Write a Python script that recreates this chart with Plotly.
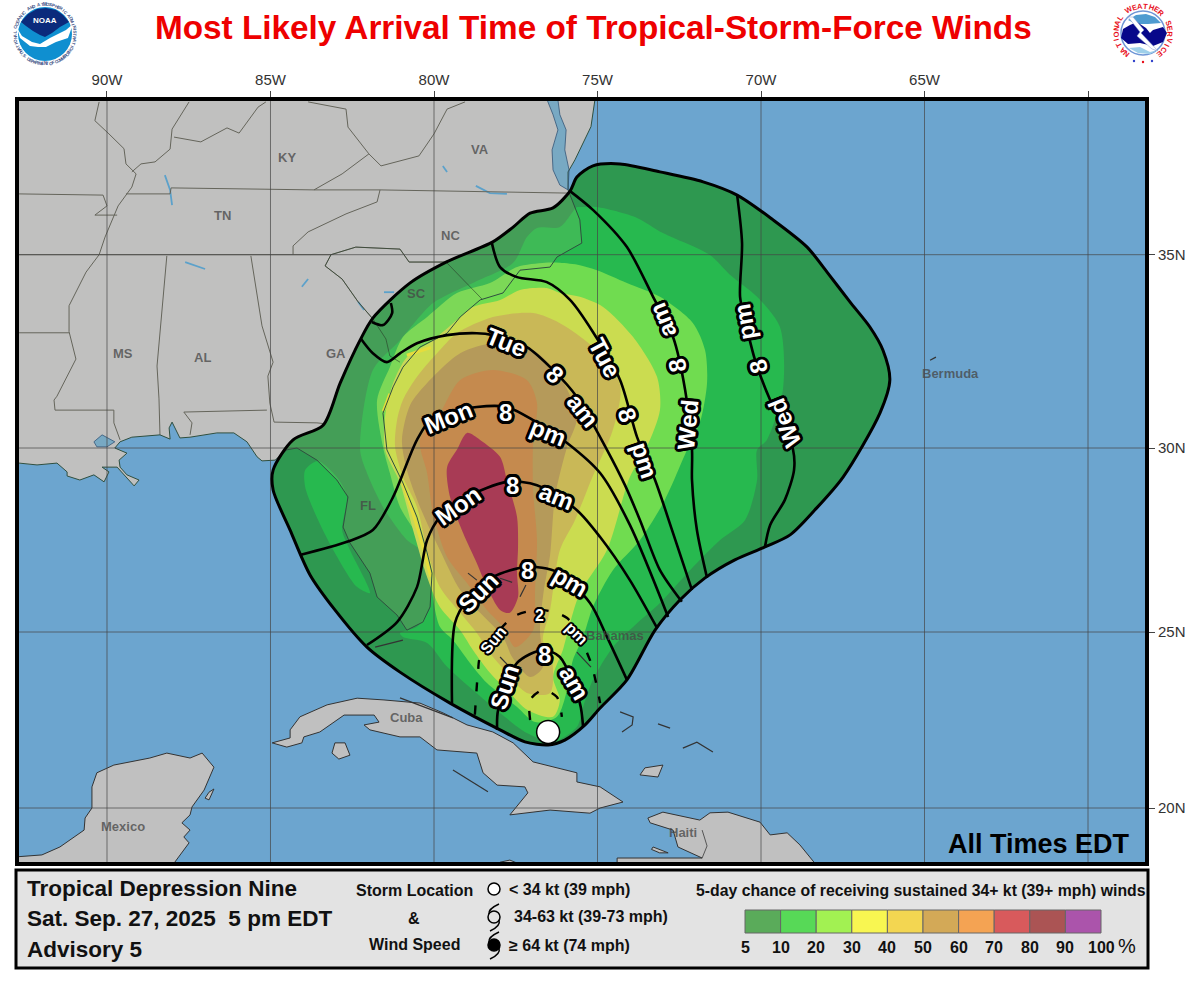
import math
import numpy as np
import plotly.graph_objects as go

# ---------- map axes ----------
LON_TICKS = [-90, -85, -80, -75, -70, -65, -60]
LON_LABELS = ["90W", "85W", "80W", "75W", "70W", "65W", ""]
LAT_TICKS = [35, 30, 25, 20]
LAT_LABELS = ["35N", "30N", "25N", "20N"]
# map grid: northing of each latitude on this projection
GRID_LAT = [15, 20, 25, 30, 35, 40]
GRID_NORTHING = [980.5, 808, 632, 448, 254.7, 54.7]
LON_RANGE = [-92.752, -58.196]
NORTHING_RANGE = [864, 99]

# ---------- wind probability contours (lon, lat) ----------
P05 = [(-75.84,36.59),(-75.63,36.94),(-75.14,37.22),(-74.31,37.27),(-73.09,37.07),(-71.77,36.82),(-70.73,36.49),(-69.63,35.87),(-68.59,35.19),(-67.98,34.55),(-67.28,33.78),(-66.67,33.13),(-66.27,32.53),(-66.06,31.76),(-66.36,30.91),(-67.49,29.21),(-68.35,28.32),(-69.11,27.64),(-69.88,27.31),(-70.8,26.96),(-71.71,26.47),(-72.48,25.87),(-73.24,25.05),(-74.1,23.64),(-74.92,22.84),(-75.38,22.36),(-76.0,21.93),(-76.51,21.79),(-77.22,21.88),(-77.98,22.22),(-79.51,22.98),(-81.04,23.86),(-82.05,24.57),(-83.03,25.6),(-83.79,26.55),(-84.4,27.77),(-84.92,28.86),(-84.92,29.4),(-84.31,30.21),(-83.39,30.59),(-82.87,31.68),(-82.26,32.79),(-81.87,33.36),(-80.73,34.27),(-79.6,34.82),(-78.2,35.32),(-77.58,35.69),(-77.06,36.04),(-76.36,36.17),(-75.84,36.59)]
P10 = [(-75.54,36.19),(-75.02,36.19),(-73.79,35.92),(-73.0,35.54),(-71.56,34.99),(-70.95,34.48),(-70.12,33.91),(-69.42,33.13),(-69.33,31.5),(-69.82,30.21),(-70.12,29.95),(-70.12,29.13),(-70.49,28.04),(-71.25,27.5),(-72.17,26.68),(-73.09,25.79),(-73.79,25.24),(-74.53,24.57),(-75.14,23.64),(-75.44,22.87),(-75.63,22.3),(-76.36,21.88),(-77.16,22.13),(-77.98,22.7),(-78.81,23.35),(-79.6,24.01),(-80.21,24.69),(-80.95,24.86),(-81.04,24.97),(-80.52,25.14),(-80.12,25.68),(-80.12,26.33),(-80.43,27.23),(-80.83,27.5),(-81.56,28.4),(-82.05,29.32),(-82.26,29.95),(-81.87,32.02),(-81.04,32.79),(-80.03,33.75),(-78.81,34.27),(-77.58,34.79),(-77.16,35.44),(-76.85,35.67),(-76.15,35.69),(-75.63,36.19),(-75.54,36.19)]
P10_GULF = [(-83.94,29.4),(-83.55,29.65),(-82.97,29.21),(-82.66,28.67),(-82.81,27.77),(-82.57,27.23),(-81.96,26.06),(-82.35,26.22),(-83.03,27.15),(-83.64,28.23),(-83.94,28.94),(-83.94,29.4)]
P20 = [(-76.15,34.79),(-75.54,34.73),(-75.02,34.6),(-74.1,34.27),(-73.09,33.91),(-72.08,33.23),(-71.71,32.53),(-71.65,31.68),(-71.87,30.65),(-72.26,29.95),(-72.94,28.59),(-73.7,27.5),(-74.53,26.68),(-75.14,25.68),(-75.44,24.86),(-75.75,24.21),(-75.93,23.35),(-76.24,22.59),(-76.91,22.44),(-77.46,22.87),(-78.38,23.55),(-78.9,24.12),(-79.42,24.77),(-79.82,25.14),(-80.06,26.14),(-80.06,26.6),(-80.43,27.5),(-81.04,28.4),(-81.35,29.32),(-81.56,30.03),(-81.74,31.24),(-81.35,32.09),(-80.95,32.87),(-80.21,33.39),(-79.3,34.01),(-78.29,34.27),(-77.46,34.68),(-76.61,34.79),(-76.15,34.79)]
P30 = [(-79.3,33.31),(-78.81,33.65),(-77.98,33.83),(-77.37,34.09),(-76.55,34.14),(-76.15,34.01),(-75.54,33.91),(-74.83,33.65),(-73.91,32.87),(-73.18,31.84),(-73.09,30.98),(-73.49,30.03),(-74.01,29.21),(-74.71,27.23),(-75.54,26.06),(-75.84,25.24),(-76.06,24.49),(-76.36,23.72),(-76.15,23.07),(-76.36,22.59),(-77.13,22.78),(-77.77,23.35),(-78.29,23.84),(-78.81,24.49),(-79.2,25.05),(-79.82,25.68),(-80.21,26.49),(-80.64,27.77),(-81.04,29.05),(-81.5,29.95),(-81.5,30.8),(-81.25,31.68),(-80.83,32.35),(-80.03,32.79),(-79.3,33.31)]
P40 = [(-79.91,32.45),(-79.3,32.97),(-78.2,33.39),(-76.97,33.49),(-76.15,33.23),(-75.14,32.61),(-74.31,31.63),(-74.53,30.47),(-75.17,29.18),(-75.69,28.04),(-76.15,27.23),(-76.45,25.6),(-76.67,24.77),(-76.39,24.21),(-76.45,23.27),(-77.16,23.27),(-77.77,23.84),(-78.29,24.4),(-78.69,24.97),(-79.2,25.52),(-79.82,26.22),(-80.21,27.23),(-80.52,28.4),(-80.95,29.21),(-81.19,30.03),(-81.13,30.72),(-80.95,31.24),(-80.52,31.84),(-79.91,32.45)]
P50 = [(-80.21,31.68),(-79.2,32.45),(-78.2,32.71),(-76.97,32.53),(-76.15,31.84),(-75.63,30.8),(-75.93,30.03),(-76.3,28.67),(-76.45,27.09),(-76.64,26.14),(-76.76,25.05),(-76.67,24.0),(-77.06,23.72),(-77.61,24.29),(-77.89,24.86),(-78.59,25.52),(-79.2,26.14),(-79.82,27.23),(-80.43,28.4),(-80.83,29.4),(-80.98,30.21),(-80.73,31.11),(-80.21,31.68)]
P60 = [(-79.82,30.9),(-79.2,31.76),(-78.2,32.02),(-77.16,31.76),(-76.85,31.16),(-76.97,30.13),(-76.97,28.86),(-76.85,27.5),(-76.91,26.14),(-76.97,25.05),(-77.52,24.57),(-77.89,25.14),(-78.38,25.6),(-78.99,26.33),(-79.6,27.04),(-80.03,28.23),(-80.21,29.32),(-80.43,30.21),(-79.82,30.9)]
P70 = [(-78.99,30.39),(-78.59,30.21),(-77.98,29.76),(-77.77,29.13),(-77.46,28.12),(-77.43,27.31),(-77.46,26.6),(-77.43,25.95),(-77.68,25.52),(-77.98,25.6),(-78.38,26.22),(-78.69,26.87),(-79.11,27.69),(-79.51,28.67),(-79.6,29.48),(-79.3,29.95),(-78.99,30.39)]
PROB_FILLS = [(P05,"#2e9850"),(P10,"#27b94f"),(P10_GULF,"#27b94f"),(P20,"#70dc50"),(P30,"#cbdc50"),(P40,"#c9b857"),(P50,"#b59a5a"),(P60,"#c58a4e"),(P70,"#a83b55")]
# narrow high-probability strips hugging the coast
COAST_STRIP_FL = [(-80.95,29.05),(-80.6,28.1),(-80.3,27.2),(-80.1,26.5)]
COAST_STRIP_GA = [(-80.83,32.4),(-80.1,32.6)]
COAST_STRIP_GA2 = [(-81.55,30.95),(-81.35,31.4)]

# ---------- most likely arrival time contours (lon, lat) ----------
T_WED_PM = [(-70.73,36.49),(-70.58,35.29),(-70.64,33.91),(-70.49,33.31),(-70.18,32.27),(-69.72,31.24),(-69.27,30.47),(-69.02,29.95),(-68.99,29.4),(-69.27,28.59),(-69.72,27.91),(-69.88,27.31)]
T_WED_AM = [(-75.84,36.59),(-75.14,36.12),(-74.1,35.19),(-73.3,33.91),(-72.69,32.87),(-72.32,31.5),(-72.11,29.95),(-72.11,29.13),(-71.96,27.77),(-71.65,26.47)]
T_TUE_PM = [(-78.23,35.29),(-77.98,34.68),(-77.46,34.42),(-76.55,34.29),(-75.84,33.83),(-75.14,33.0),(-74.31,31.76),(-73.79,30.28),(-73.24,29.13),(-72.72,27.77),(-72.11,26.14)]
T_TUE_AM = [(-82.23,32.82),(-81.87,32.45),(-81.44,32.22),(-81.04,32.45),(-80.52,32.71),(-79.6,32.92),(-78.69,32.97),(-78.2,32.92),(-77.16,32.61),(-76.36,32.02),(-75.63,31.32),(-74.71,29.95),(-74.16,28.99),(-73.7,28.04),(-73.09,26.68),(-72.42,25.82)]
T_TUE_ARC = [(-81.9,33.26),(-81.56,33.18),(-81.28,33.49),(-81.32,33.75)]
T_MON_PM = [(-84.1,27.09),(-82.66,27.45),(-81.87,27.77),(-81.25,28.67),(-80.52,30.21),(-80.03,30.8),(-78.69,31.06),(-77.77,31.06),(-76.97,30.72),(-75.93,30.13),(-74.92,29.32),(-74.01,27.91),(-72.84,25.41)]
T_MON_AM = [(-82.05,24.63),(-81.13,25.27),(-80.52,26.22),(-80.21,27.5),(-79.82,28.12),(-78.99,28.67),(-77.77,29.08),(-76.85,28.99),(-75.63,28.31),(-74.92,27.58),(-74.01,26.41),(-73.18,25.11)]
T_SUN_PM = [(-79.45,22.98),(-79.36,25.24),(-78.99,25.87),(-78.2,26.49),(-77.16,26.77),(-76.24,26.63),(-75.23,25.79),(-74.71,24.86),(-74.1,23.64)]
T_SUN_AM = [(-78.07,22.22),(-78.04,22.78),(-77.46,24.12),(-76.67,24.49),(-76.15,24.29),(-75.54,22.98),(-75.44,22.3)]
T_SOLID = [T_WED_PM,T_WED_AM,T_TUE_PM,T_TUE_AM,T_TUE_ARC,T_MON_PM,T_MON_AM,T_SUN_PM,T_SUN_AM]
T_SUN_2PM = [(-78.75,22.65),(-78.65,23.92),(-78.59,24.29),(-77.58,25.41),(-76.76,25.6),(-75.93,25.38),(-75.23,24.2),(-74.92,22.98)]
T_SUN_5AM = [(-77.06,22.5),(-77.06,23.07),(-76.67,23.35),(-76.24,23.15),(-76.09,22.59)]
T_DASHED = [T_SUN_2PM,T_SUN_5AM]

# word, lon, lat, rotation, size
TIME_LABELS = [
 ("Tue",-77.77,32.74,22,24),("8",-76.3,31.89,45,24),("am",-75.44,30.98,52,24),
 ("Tue",-74.77,32.35,62,24),("8",-74.07,30.85,72,24),("pm",-73.55,29.67,72,24),
 ("Wed",-72.23,30.6,-85,24),("8",-72.57,32.14,-100,24),("am",-73.03,33.31,-112,24),
 ("Wed",-69.27,30.65,-112,24),("8",-70.09,32.09,-105,24),("pm",-70.49,33.26,-100,24),
 ("Mon",-79.57,30.78,-22,24),("8",-77.8,30.93,0,24),("pm",-76.51,30.39,22,24),
 ("Mon",-79.27,28.45,-35,24),("8",-77.61,28.99,0,24),("am",-76.24,28.67,22,24),
 ("Sun",-78.65,26.06,-45,24),("8",-77.13,26.66,0,24),("pm",-75.84,26.36,30,24),
 ("Sun",-78.2,24.77,-50,16),("2",-76.76,25.46,0,16),("pm",-75.63,24.97,45,16),
 ("Sun",-77.83,23.44,-72,24),("8",-76.61,24.35,0,24),("am",-75.69,23.55,60,24),
]
STORM_LON, STORM_LAT = -76.51, 22.16

# ---------- base map (lon, lat) ----------
LAND_US = [(-93,39.2),(-75.02,39.2),(-75.2,38.2),(-75.69,37.37),(-75.9,37.07),(-75.9,36.62),(-75.54,35.87),(-75.48,35.29),(-76.24,34.94),(-76.45,34.68),(-77.37,34.6),(-77.89,34.01),(-78.59,33.83),(-79.2,33.39),(-79.6,32.97),(-80.43,32.61),(-80.95,32.09),(-81.25,31.58),(-81.56,30.9),(-81.44,29.95),(-80.95,29.05),(-80.52,28.12),(-80.21,27.15),(-80.06,26.6),(-80.12,25.68),(-80.34,25.27),(-80.83,25.05),(-81.13,25.46),(-81.74,25.95),(-81.96,26.6),(-82.57,27.42),(-82.78,27.85),(-82.63,28.67),(-82.97,29.13),(-83.58,29.67),(-84.19,30.0),(-84.5,29.95),(-84.86,29.67),(-85.26,29.65),(-85.41,29.76),(-85.72,30.16),(-86.12,30.39),(-86.64,30.39),(-87.46,30.28),(-87.77,30.26),(-88.01,30.67),(-88.1,30.52),(-88.07,30.23),(-88.38,30.34),(-89.24,30.28),(-89.6,30.16),(-89.76,30.0),(-89.39,29.86),(-89.63,29.67),(-89.6,29.48),(-89.39,29.27),(-89.02,29.13),(-89.17,28.97),(-89.39,29.19),(-89.69,29.48),(-90.15,29.48),(-89.94,29.35),(-90.09,29.08),(-90.4,29.27),(-90.83,29.13),(-91.22,29.24),(-91.22,29.35),(-91.53,29.59),(-92.14,29.54),(-92.69,29.59),(-93,29.6),(-93,39.2)]
YUCATAN = [(-92.69,18.59),(-91.99,18.64),(-91.44,18.87),(-90.7,19.36),(-90.67,19.71),(-90.46,20),(-90.46,20.6),(-90.31,21),(-89.79,21.22),(-88.69,21.42),(-88.17,21.56),(-87.46,21.42),(-87.09,21.56),(-86.73,21.16),(-87.03,20.51),(-87.4,20.03),(-87.46,19.8),(-87.71,19.57),(-87.46,19.36),(-87.65,19.16),(-87.49,18.99),(-87.95,18.4),(-87.95,18.2),(-93,18.2),(-93,18.59),(-92.69,18.59)]
COZUMEL = [(-87,20.28),(-86.88,20.45),(-86.73,20.54),(-86.88,20.23),(-87,20.28)]
CUBA = [(-84.95,21.85),(-84.4,21.99),(-84.4,22.22),(-84.1,22.59),(-83.27,22.93),(-82.35,23.12),(-81.53,23.07),(-80.43,22.98),(-79.72,22.7),(-78.99,22.36),(-78.2,22.16),(-77.58,21.85),(-76.97,21.31),(-76.24,21.14),(-75.63,21),(-75.63,20.74),(-74.92,20.6),(-74.22,20.17),(-74.92,20),(-75.23,19.85),(-76.45,19.94),(-77.68,19.8),(-77.13,20.43),(-77.22,20.6),(-78.07,20.65),(-78.5,21),(-78.69,21.56),(-79.91,21.65),(-80.43,22.02),(-81.04,22.02),(-81.96,22.22),(-82.14,22.36),(-81.68,22.44),(-81.83,22.64),(-82.75,22.64),(-83.49,22.16),(-83.98,22.02),(-84.04,21.85),(-84.5,21.73),(-84.95,21.85)]
JUVENTUD = [(-83.12,21.56),(-83.03,21.85),(-82.72,21.85),(-82.57,21.5),(-82.91,21.39),(-83.12,21.56)]
INAGUA = [(-73.7,20.94),(-73.55,21.14),(-73,21.22),(-73.15,20.88),(-73.7,20.94)]
HISPANIOLA = [(-73.46,19.71),(-73,19.88),(-71.87,19.65),(-71.56,19.86),(-71.01,19.88),(-70.03,19.59),(-69.72,19.22),(-69.2,19.28),(-68.81,18.93),(-68.38,18.43),(-68.38,18.2),(-74.4,18.2),(-74.4,18.55),(-71.8,18.55),(-72.54,18.87),(-72.69,19.36),(-73.39,19.57),(-73.46,19.71)]
JAMAICA = [(-77.98,18.43),(-77.68,18.49),(-77.37,18.37),(-77.98,18.2),(-77.98,18.43)]
GONAVE = [(-73.3,18.87),(-72.84,18.7),(-73.1,18.7),(-73.35,18.8),(-73.3,18.87)]
ISLANDS = [YUCATAN,COZUMEL,CUBA,JUVENTUD,INAGUA,HISPANIOLA,JAMAICA,GONAVE]
PONTCHARTRAIN = [(-90.4,30.16),(-90.15,30.34),(-89.76,30.16),(-90,30.03),(-90.31,30.03),(-90.4,30.16)]
CHESAPEAKE = [(-76.54,38.87),(-76.36,38.5),(-76.21,38.12),(-76.39,37.62),(-76.36,37.12),(-76.15,36.74),(-75.9,36.62),(-75.87,37.12),(-76.0,37.62),(-75.96,38.12),(-76.15,38.5),(-76.21,38.87),(-76.54,38.87)]
WATER_BODIES = [PONTCHARTRAIN,CHESAPEAKE]
BORDERS = [
 [(-92.69,36.52),(-90.12,36.49),(-90,36.22),(-90.37,35.99),(-89.69,35.99)],
 [(-89.42,36.52),(-88.07,36.52),(-88.04,36.67),(-83.67,36.62),(-81.65,36.62),(-75.9,36.54)],
 [(-81.65,36.62),(-81.74,36.32),(-82.69,36.02),(-83.85,35.57),(-84.31,35.22),(-84.31,35.0)],
 [(-92.69,35),(-90.24,35),(-83.15,35)],
 [(-90.24,38.82),(-90.37,38.35),(-89.94,38.02),(-89.48,37.65),(-89.42,37.27),(-89.11,37.02),(-89.24,36.69),(-89.66,36.22),(-90.06,35.44),(-90.24,35),(-90.64,34.55),(-91.16,33.68),(-91.16,33.01),(-90.95,32.3),(-91.53,31.34),(-91.62,31.24),(-91.59,30.98),(-89.79,30.98),(-89.79,30.65),(-89.6,30.21)],
 [(-92.69,32.98),(-91.16,32.98)],
 [(-88.17,34.97),(-88.47,32.12),(-88.41,31.27),(-88.38,30.34)],
 [(-85.6,34.97),(-85.26,33.16),(-84.92,32.22),(-85.08,31.86),(-85.02,31.16),(-84.89,30.67),(-83.58,30.65),(-82.35,30.54),(-82.05,30.72),(-82.17,30.39),(-81.44,30.65)],
 [(-87.46,30.34),(-87.4,30.65),(-87.65,30.93),(-85.11,30.98)],
 [(-83.15,35),(-83.33,34.71),(-82.81,34.37),(-82.32,33.78),(-81.87,33.34),(-81.47,32.82),(-81.35,32.38),(-81.04,32.22)],
 [(-83.15,35),(-82.39,35.19),(-81.04,35.14),(-80.76,34.81),(-79.63,34.81),(-78.53,33.85)],
 [(-83.67,36.62),(-82.81,37.02),(-81.99,37.52),(-81.62,37.22),(-80.46,37.47),(-80,38.02),(-79.6,38.64),(-79.05,38.82)],
 [(-81.99,37.52),(-82.63,38.19),(-82.69,38.64),(-83.85,38.82)],
 [(-87.95,37.94),(-87.13,37.82),(-86.33,38.17),(-85.96,38.04),(-85.38,38.69),(-85.14,38.82)],
 [(-87.49,38.82),(-88.01,38.14),(-88.07,37.64),(-88.53,37.32),(-88.96,37.27),(-89.24,37.07)],
 [(-71.8,19.36),(-71.65,18.9),(-71.8,18.55)],
]
REEFS = [
 [(-74.31,22.73),(-73.91,22.59),(-73.94,22.36),(-74.25,22.16)],
 [(-73.15,22.39),(-72.78,22.27)],
 [(-72.39,21.7),(-71.96,21.87),(-71.47,21.59)],
 [(-78.96,26.6),(-78.69,26.41)],
 [(-77.98,26.46),(-77.61,26.35)],
 [(-77.37,25.96),(-77.19,26.28)],
 [(-77.98,24.29),(-77.68,24.0)],
 [(-75.63,24.43),(-75.2,24.0)],
 [(-81.8,24.57),(-80.95,24.77)],
 [(-81.04,23.13),(-79.42,22.56)],
 [(-79.42,21.08),(-78.35,20.46)],
 [(-64.83,32.27),(-64.65,32.35)],
]
RIVERS = [
 [(-79.73,37.22),(-79.6,37.07)],
 [(-78.72,36.72),(-78.29,36.54),(-77.77,36.52)],
 [(-87.61,34.81),(-87,34.63)],
 [(-84.04,34.17),(-83.85,34.37)],
 [(-88.23,36.99),(-88.07,36.62),(-88.01,36.24)],
 [(-82.32,33.78),(-82.14,33.57)],
 [(-81.53,34.03),(-81.22,34.03)],
]
PLACE_LABELS = [("KY",-84.5,37.42),("VA",-78.59,37.62),("TN",-86.48,35.99),("NC",-79.51,35.49),("MS",-89.51,32.45),("AL",-87.09,32.35),("GA",-83,32.45),("SC",-80.52,33.99),("FL",-82.02,28.45),("Bermuda",-64.22,31.94),("Bahamas",-74.47,24.89),("Cuba",-80.83,22.56),("Mexico",-89.51,19.45),("Haiti",-72.39,19.28)]

# ---------- legend ----------
LEGEND_TICKS = ["5","10","20","30","40","50","60","70","80","90","100"]
LEGEND_COLORS = ["#5aab5a","#57d957","#a2f152","#f8f651","#f3d651","#d3a957","#f4a353","#d85a5c","#ab5454","#ab54ab"]

W, H = 1200, 984
L, R, T, B = 17, 1147, 99, 864
FONT = "Liberation Sans"

def north(lat):
    return np.interp(lat, GRID_LAT, GRID_NORTHING)

def xy(points):
    return [p[0] for p in points], list(north([p[1] for p in points]))

fig = go.Figure()

def poly(points, fill, line=None, width=0, spline=False, dash=None, mode="lines"):
    xs, ys = xy(points)
    fig.add_trace(go.Scatter(
        x=xs, y=ys, mode=mode, hoverinfo="skip",
        fill="toself" if fill else "none", fillcolor=fill,
        line=dict(color=line or "rgba(0,0,0,0)", width=width, dash=dash,
                  shape="spline" if spline else "linear", smoothing=0.8),
    ))

# land under everything; the tint layer later brings it to neutral grey
poly(LAND_US, "rgb(192,192,203)")
for body in WATER_BODIES:
    poly(body, "#6ca5cf")
for isle in ISLANDS:
    poly(isle, "#c0c0c0", "#333333", 1)
for river in RIVERS:
    poly(river, None, "#4a9cd8", 1.8)
for border in BORDERS:
    poly(border, None, "#555555", 1)
for level, colour in PROB_FILLS:
    poly(level, colour, spline=True)
# land tint over the probability fills, then the coast on top
poly(LAND_US, "rgba(192,192,130,0.15)")
for strip in (COAST_STRIP_FL, COAST_STRIP_GA, COAST_STRIP_GA2):
    poly(strip, None, "#e6dc3c", 3)
for border in BORDERS[9:11]:
    poly(border, None, "rgba(40,60,40,0.6)", 1)
poly(LAND_US[1:-2], None, "#2f4f3f", 1)
for reef in REEFS:
    poly(reef, None, "#333333", 1.2)
for body in WATER_BODIES:
    poly(body, None, "#335577", 0.8)

# graticule drawn over the fills
for lon in LON_TICKS:
    fig.add_trace(go.Scatter(x=[lon, lon], y=NORTHING_RANGE, mode="lines", hoverinfo="skip",
                             line=dict(color="rgba(70,70,70,0.7)", width=1)))
for lat in LAT_TICKS:
    fig.add_trace(go.Scatter(x=LON_RANGE, y=[float(north(lat))]*2, mode="lines", hoverinfo="skip",
                             line=dict(color="rgba(70,70,70,0.7)", width=1)))

poly(P05, None, "#000000", 3, spline=True)
for line in T_SOLID:
    poly(line, None, "#000000", 2.6, spline=True)
for line in T_DASHED:
    poly(line, None, "#000000", 2.4, spline=True, dash="9px,14px")

fig.add_trace(go.Scatter(x=[STORM_LON], y=[float(north(STORM_LAT))], mode="markers", hoverinfo="skip",
                         marker=dict(size=23, color="white", line=dict(color="black", width=1.5))))

annotations = []
def round_outline(r):
    return ", ".join(f"{r*math.cos(math.radians(a)):.1f}px {r*math.sin(math.radians(a)):.1f}px 0.6px #000" for a in range(0, 360, 30))
OUTLINE_W, OUTLINE_S = round_outline(3), round_outline(2)
for word, lon, lat, angle, size in TIME_LABELS:
    annotations.append(dict(
        x=lon, y=float(north(lat)), xref="x", yref="y", text=f"<b>{word}</b>", showarrow=False,
        textangle=angle, xanchor="center", yanchor="middle",
        font=dict(family=FONT, size=size, color="white", shadow=OUTLINE_W if size > 20 else OUTLINE_S)))
for word, lon, lat in PLACE_LABELS:
    annotations.append(dict(
        x=lon, y=float(north(lat)), xref="x", yref="y", text=f"<b>{word}</b>", showarrow=False,
        xanchor="center", yanchor="middle",
        font=dict(family=FONT, size=13, color="rgba(70,70,70,0.75)")))

# paper coordinates of a point given in page pixels (paper spans the plot area)
def fx(x):
    return (x-L)/(R-L)
def fy(y):
    return 1-(y-T)/(B-T)

def txt(text, x, y, size, color="#111111", bold=True, anchor="left", angle=0):
    annotations.append(dict(
        x=fx(x), y=fy(y), xref="paper", yref="paper", showarrow=False, xanchor=anchor, yanchor="middle",
        text=f"<b>{text}</b>" if bold else text, textangle=angle,
        font=dict(family=FONT, size=size, color=color)))

txt("Most Likely Arrival Time of Tropical-Storm-Force Winds", 593, 28, 33.3, "#ee0000", anchor="center")
txt("All Times EDT", 1039, 844, 27, "#000000", anchor="center")
txt("Tropical Depression Nine", 25, 888, 22.5)
txt("Sat. Sep. 27, 2025&nbsp;&nbsp;5 pm EDT", 25, 918, 22.5)
txt("Advisory 5", 25, 949, 22.5)
txt("Storm Location", 414, 890, 16, anchor="center")
txt("&", 414, 918, 16, anchor="center")
txt("Wind Speed", 414, 944, 16, anchor="center")
txt("&lt; 34 kt (39 mph)", 507, 889, 16)
txt("34-63 kt (39-73 mph)", 512, 916, 16)
txt("≥ 64 kt (74 mph)", 507, 945, 16)
txt("5-day chance of receiving sustained 34+ kt (39+ mph) winds", 921, 890, 15.8, anchor="center")

BAR_X0, BAR_STEP = 745.0, 35.6
for i, tick in enumerate(LEGEND_TICKS):
    txt(tick, BAR_X0 + i*BAR_STEP, 947, 16, anchor="center")
txt("%", 1127, 946, 20, bold=False, anchor="center")

def px(x, y):
    return f"{fx(x):.5f},{fy(y):.5f}"

def path(points, close=True):
    return "M " + " L ".join(px(*p) for p in points) + (" Z" if close else "")

shapes = []
def rect(x0, y0, x1, y1, fill=None, line="#000000", width=1, layer="above"):
    shapes.append(dict(type="rect", xref="paper", yref="paper", x0=fx(x0), x1=fx(x1), y0=fy(y0), y1=fy(y1),
                       fillcolor=fill or "rgba(0,0,0,0)", line=dict(color=line, width=width), layer=layer))
def circle(cx, cy, r, fill=None, line="rgba(0,0,0,0)", width=0):
    shapes.append(dict(type="circle", xref="paper", yref="paper", x0=fx(cx-r), x1=fx(cx+r), y0=fy(cy-r), y1=fy(cy+r),
                       fillcolor=fill or "rgba(0,0,0,0)", line=dict(color=line, width=width), layer="above"))
def shape_path(d, fill=None, line="rgba(0,0,0,0)", width=0):
    shapes.append(dict(type="path", xref="paper", yref="paper", path=d,
                       fillcolor=fill or "rgba(0,0,0,0)", line=dict(color=line, width=width), layer="above"))

rect(L, T, R, B, width=4)
rect(16, 870, 1148, 968, fill="#e3e3e3", width=3)
for i, colour in enumerate(LEGEND_COLORS):
    rect(BAR_X0 + i*BAR_STEP, 910, BAR_X0 + (i+1)*BAR_STEP, 933, fill=colour, line="#666666", width=1)

# wind speed symbols
circle(494, 889, 6, "#ffffff", "#000000", 1.5)
for cy, fill in ((917, "#e3e3e3"), (945, "#000000")):
    circle(494, cy, 6, fill, "#000000", 1.5)
    shape_path(f"M {px(499, cy-13)} Q {px(488, cy-8)} {px(489, cy-3)}", None, "#000000", 1.5)
    shape_path(f"M {px(490, cy+14)} Q {px(501, cy+9)} {px(499, cy+3)}", None, "#000000", 1.5)

# NOAA emblem
NOAA_C = (45, 34)
circle(*NOAA_C, 27, "#0f8fd0")
shape_path(path([(17,28),(22,36),(32,42),(40,44),(50,38),(66,30),(73,24),(68,38),(56,42),(46,47),(38,47),(30,46),(20,38)]), "#ffffff")
shape_path(path([(21,22),(28,14),(37,9),(46,8),(56,10),(63,15),(69,22),(60,27),(52,33),(45,37),(40,35),(33,31),(26,26)]), "#0b2a7c")
txt("NOAA", 45, 21, 8, "#ffffff", anchor="center")
def ring(text, cx, cy, r, a0, a1, size, color, bold=True, flip=False):
    n = len(text)
    for i, ch in enumerate(text):
        a = a0 + (a1-a0)*i/(n-1)
        rad = math.radians(a)
        if ch != " ":
            txt(ch, cx + r*math.sin(rad), cy - r*math.cos(rad), size, color, bold, "center",
                angle=(a-180 if flip else a))
ring("NATIONAL OCEANIC AND ATMOSPHERIC ADMINISTRATION", 45, 34, 30, -125, 125, 4.5, "#445588")
ring("U.S. DEPARTMENT OF COMMERCE", 45, 34, 30, 232, 128, 4.5, "#445588", flip=True)

# NWS emblem
NWS_C = (1143, 33)
circle(*NWS_C, 22, "#ffffff", "#6f96d6", 1.5)
shape_path(path([(1128,20),(1136,15),(1146,14),(1155,17),(1161,23),(1148,24),(1136,24)]), "#4f9bd0")
shape_path(path([(1121,38),(1123,29),(1130,25),(1137,22),(1146,28),(1150,33),(1153,30),(1163,27),(1167,33),(1163,42),(1153,46),(1140,43),(1128,44)]), "#08088a")
shape_path(path([(1129,48),(1140,47),(1150,52),(1158,50),(1150,54),(1138,53)]), "#9fd0ea")
shape_path(path([(1128,17),(1133,17),(1144,30),(1141,33),(1158,51),(1152,49),(1137,36),(1140,32)]), "#ffffff", "#8899cc", 0.5)
ring("NATIONAL WEATHER SERVICE", 1143, 33, 27, -142, 142, 7.5, "#e8101c")
for dx in (-9, 0, 9):
    circle(1143+dx, 62 if dx == 0 else 61, 1.2, "#e8101c" if dx == 0 else "#3344cc")

fig.update_layout(
    width=W, height=H, autosize=False,
    margin=dict(l=L, r=W-R, t=T, b=H-B, pad=0),
    paper_bgcolor="white", plot_bgcolor="#6ca5cf", showlegend=False,
    font=dict(family=FONT),
    xaxis=dict(range=LON_RANGE, side="top", tickvals=LON_TICKS, ticktext=LON_LABELS, ticks="outside", ticklen=7,
               tickcolor="#444444", tickfont=dict(size=15, color="#333333"), showgrid=False, zeroline=False, fixedrange=True),
    yaxis=dict(range=NORTHING_RANGE, side="right", tickvals=[float(north(v)) for v in LAT_TICKS], ticktext=LAT_LABELS,
               ticks="outside", ticklen=7, tickcolor="#444444", tickfont=dict(size=15, color="#333333"),
               showgrid=False, zeroline=False, fixedrange=True),
    annotations=annotations, shapes=shapes,
)
fig.write_html("out.html", config={"displayModeBar": False},
               post_script="document.body.style.margin='0';document.documentElement.style.overflow='hidden';")
